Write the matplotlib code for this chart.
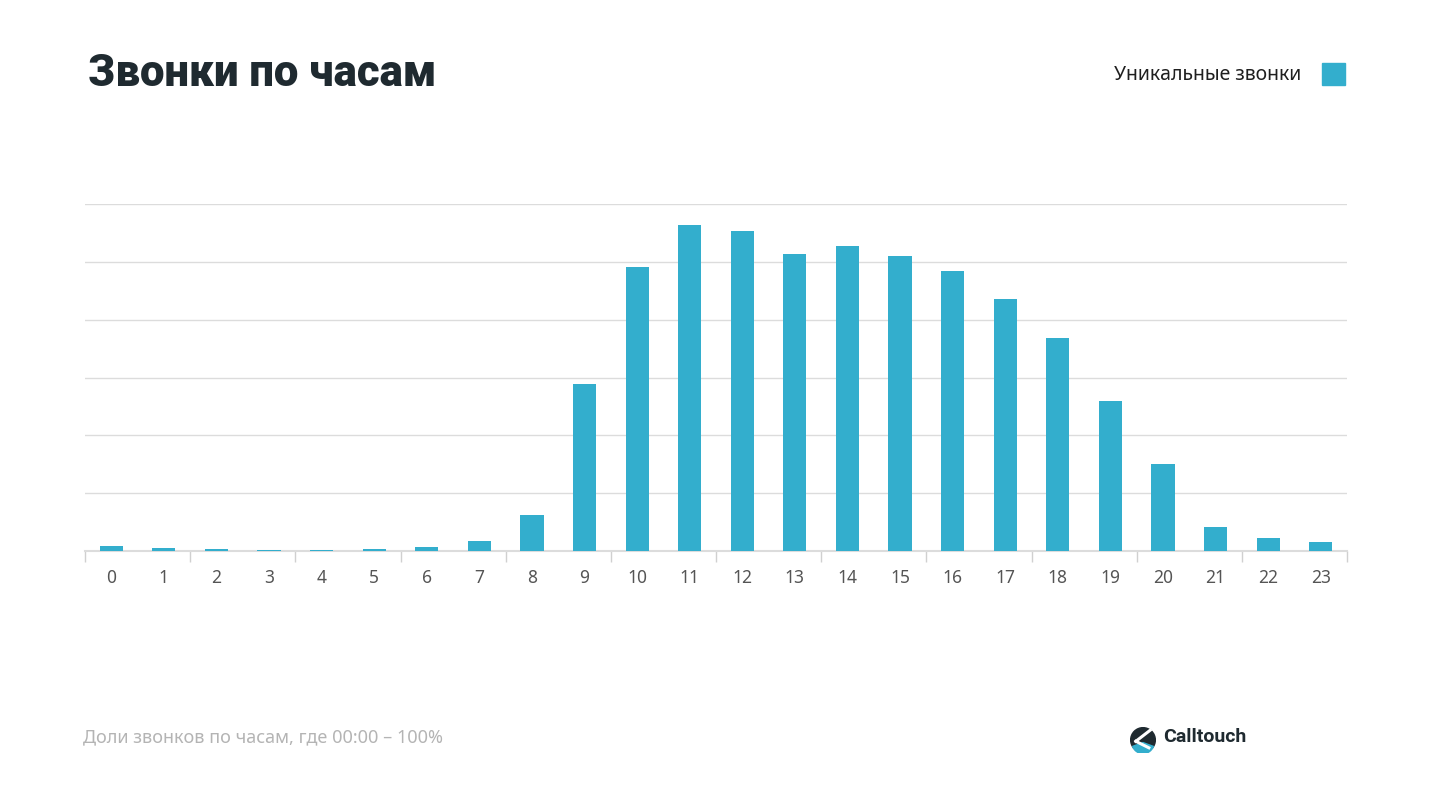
import matplotlib.pyplot as plt
import matplotlib.patches as mpatches

plt.rcParams['font.family'] = ['Noto Sans', 'DejaVu Sans']
bold_family = ['Roboto', 'Open Sans', 'DejaVu Sans']

# hours and their relative call volume (gridline step = 1)
hours = list(range(24))
calls = [0.09, 0.05, 0.035, 0.02, 0.02, 0.035, 0.07, 0.17, 0.62, 2.88,
         4.91, 5.64, 5.53, 5.14, 5.28, 5.10, 4.84, 4.36, 3.69, 2.59,
         1.50, 0.41, 0.22, 0.16]
hour_labels = [str(h) for h in hours]

bar_color = '#33aecd'

fig = plt.figure(figsize=(14.33, 8.04), dpi=100)
ax = fig.add_axes([85 / 1433, 252 / 804, 1262 / 1433, 347 / 804])

ax.bar(hours, calls, width=0.44, color=bar_color, zorder=3)

ax.set_xlim(-0.5, 23.5)
ax.set_ylim(0, 6)
ax.set_yticks(range(7))
ax.set_yticklabels([])
ax.tick_params(axis='y', length=0)
ax.grid(axis='y', color='#dcdcdc', linewidth=1, zorder=0)

# labels at each hour, tick marks between every two hours
ax.set_xticks(hours)
ax.set_xticklabels(hour_labels, fontsize=12.5, color='#555555')
ax.tick_params(axis='x', length=0, pad=12)
ax.set_xticks([h - 0.5 for h in range(0, 25, 2)], minor=True)
ax.tick_params(axis='x', which='minor', length=8, color='#d0d0d0', width=1)

for side in ['top', 'right', 'left']:
    ax.spines[side].set_visible(False)
ax.spines['bottom'].set_color('#dcdcdc')
ax.spines['bottom'].set_linewidth(1.5)

# title, legend and footnote
fig.text(88 / 1433, 1 - 74 / 804, 'Звонки по часам', fontsize=31.5, fontweight='heavy',
         family=bold_family, color='#1f2a30', va='center', ha='left')
fig.text(1301 / 1433, 1 - 75 / 804, 'Уникальные звонки', fontsize=14,
         color='#1f1f1f', va='center', ha='right')
fig.patches.append(mpatches.Rectangle((1322 / 1433, 1 - 86 / 804), 23 / 1433, 22 / 804,
                                      transform=fig.transFigure, color=bar_color))
fig.text(83 / 1433, 1 - 737 / 804, 'Доли звонков по часам, где 00:00 – 100%',
         fontsize=13, color='#b4b4b4', va='center', ha='left')

# Calltouch logo
logo = fig.add_axes([1130 / 1433, 1 - 754 / 804, 26 / 1433, 26 / 804])
logo.set_xlim(-1, 1)
logo.set_ylim(-1, 1)
logo.set_aspect('equal')
logo.axis('off')
logo.add_patch(mpatches.Circle((0, 0), 0.95, color='#1f2a30'))
logo.add_patch(mpatches.Wedge((0, -0.2), 0.85, 200, 340, color='#33aecd'))
logo.plot([-0.55, 0.55], [-0.1, 0.75], color='white', linewidth=2.2)
logo.plot([-0.55, 0.45], [-0.1, -0.6], color='white', linewidth=2.2)
fig.text(1163 / 1433, 1 - 737 / 804, 'Calltouch', fontsize=14, fontweight='bold',
         family=bold_family, color='#1f2a30', va='center', ha='left')

fig.savefig('out.png', dpi=100, facecolor='white')
